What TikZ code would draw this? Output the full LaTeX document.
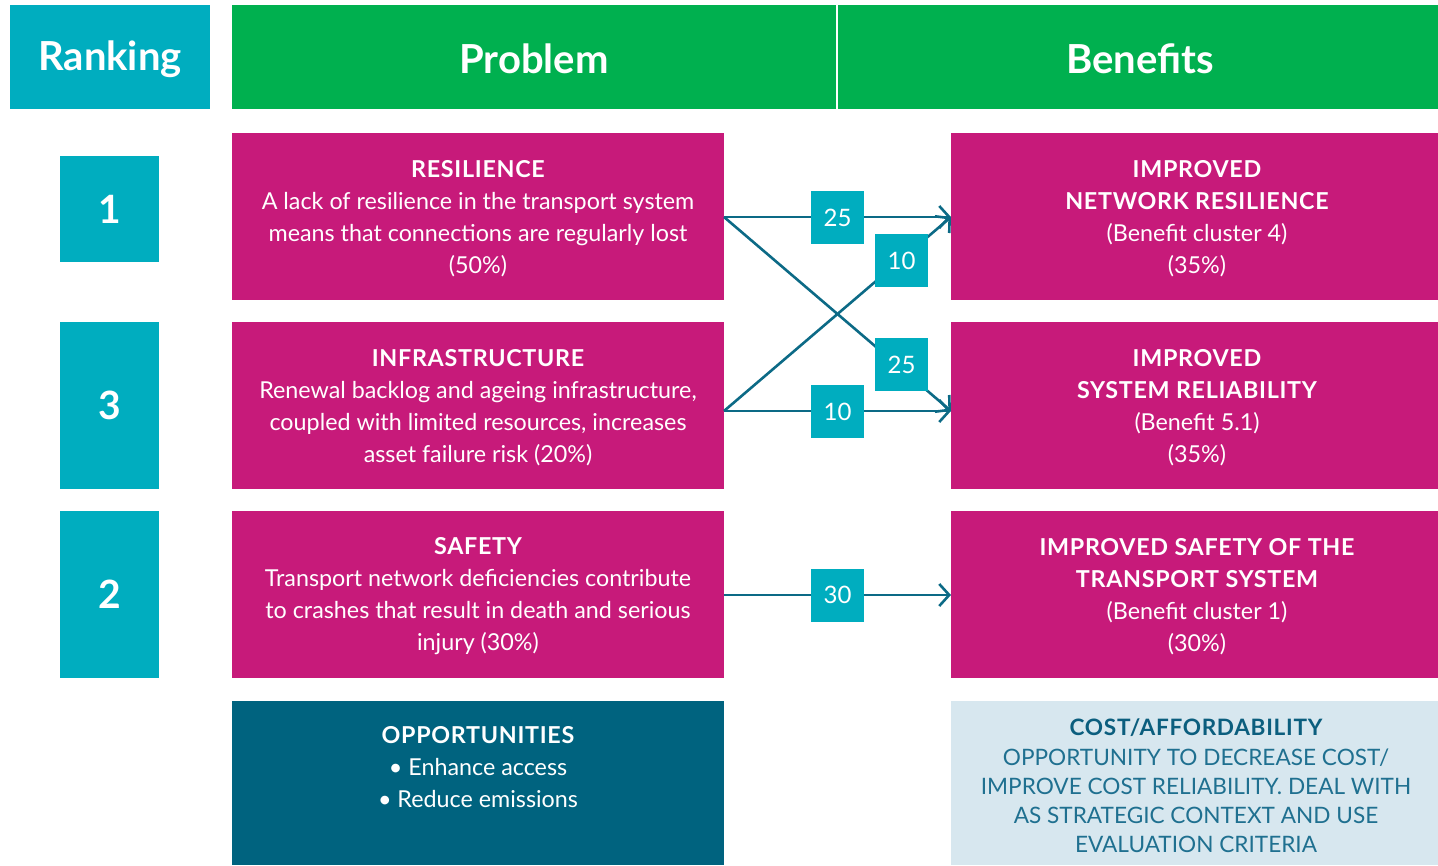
\documentclass[tikz,border=0pt]{standalone}
\usepackage{fontspec}
\setmainfont{Lato}
\newfontfamily\tfont[LetterSpace=3]{Lato}
\usetikzlibrary{arrows.meta}
\definecolor{rteal}{HTML}{00ADBF}
\definecolor{hgreen}{HTML}{00B04F}
\definecolor{mag}{HTML}{C71A7A}
\definecolor{dteal}{HTML}{00637F}
\definecolor{lblue}{HTML}{D7E7EF}
\definecolor{ctext}{HTML}{1F7090}
\definecolor{ctitle}{HTML}{0B5E7E}
\definecolor{aline}{HTML}{0C6A86}
\begin{document}
\begin{tikzpicture}[x=1pt,y=-1pt,
  hdr/.style={inner sep=0pt,text=white,font=\fontsize{40}{46}\selectfont\bfseries},
  rank/.style={fill=rteal,minimum width=99pt,minimum height=106pt,inner sep=0pt,text=white,font=\fontsize{39}{44}\selectfont\bfseries},
  pbox/.style={fill=mag,minimum width=492pt,minimum height=167pt,inner sep=0pt,text=white},
  txt/.style={align=center,text=white,font=\fontsize{23.3}{32}\selectfont},
  lab/.style={fill=rteal,minimum width=53pt,minimum height=53pt,inner sep=0pt,text=white,font=\fontsize{24}{28}\selectfont},
  conn/.style={draw=aline,line width=2.6pt,-{Straight Barb[length=10pt,width=22pt,line width=2.6pt]}}
]
\useasboundingbox (0,0) rectangle (1438,865);
% headers
\fill[rteal] (10,5) rectangle (210,109);
\node[hdr] (hr) at (110,59) {Ranking};
\fill[hgreen] (232,5) rectangle (836,109);
\node[hdr] (hp) at (534,59) {Problem};
\fill[hgreen] (838,5) rectangle (1438,109);
\node[hdr] (hb) at (1140,59) {Benefits};
% ranks
\node[rank] (r1) at (109.5,209) {1};
\node[rank,minimum height=167pt] (r3) at (109.5,405.5) {3};
\node[rank,minimum height=167pt] (r2) at (109.5,594.5) {2};
% problem boxes
\node[pbox] (p1) at (478,216.5) {};
\node[txt] at (478,218.5) {{\tfont\bfseries RESILIENCE}\\A lack of resilience in the transport system\\means that connections are regularly lost\\(50\%)};
\node[pbox] (p2) at (478,405.5) {};
\node[txt] at (478,407.5) {{\tfont\bfseries INFRASTRUCTURE}\\Renewal backlog and ageing infrastructure,\\coupled with limited resources, increases\\asset failure risk (20\%)};
\node[pbox] (p3) at (478,594.5) {};
\node[txt] at (478,596.5) {{\tfont\bfseries SAFETY}\\Transport network deficiencies contribute\\to crashes that result in death and serious\\injury (30\%)};
% benefit boxes
\node[pbox,minimum width=487pt] (b1) at (1194.5,216.5) {};
\node[txt] at (1197,218.5) {{\tfont\bfseries IMPROVED}\\{\tfont\bfseries NETWORK RESILIENCE}\\(Benefit cluster 4)\\(35\%)};
\node[pbox,minimum width=487pt] (b2) at (1194.5,405.5) {};
\node[txt] at (1197,407.5) {{\tfont\bfseries IMPROVED}\\{\tfont\bfseries SYSTEM RELIABILITY}\\(Benefit 5.1)\\(35\%)};
\node[pbox,minimum width=487pt] (b3) at (1194.5,594.5) {};
\node[txt] at (1197,596.5) {{\tfont\bfseries IMPROVED SAFETY OF THE}\\{\tfont\bfseries TRANSPORT SYSTEM}\\(Benefit cluster 1)\\(30\%)};
% bottom
\node[pbox,fill=dteal,minimum height=164pt] (op) at (478,783) {};
\node[txt] (opt) at (478,767) {{\tfont\bfseries OPPORTUNITIES}\\\textbullet\ Enhance access\\\textbullet\ Reduce emissions};
\node[pbox,fill=lblue,minimum width=487pt,minimum height=164pt] (cb) at (1194.5,783) {};
\node[txt,text=ctext,font=\fontsize{22.6}{29.3}\selectfont] (cbt) at (1196,786) {{\tfont\bfseries\color{ctitle}COST/AFFORDABILITY}\\OPPORTUNITY TO DECREASE COST/\\IMPROVE COST RELIABILITY. DEAL WITH\\AS STRATEGIC CONTEXT AND USE\\EVALUATION CRITERIA};
% connectors
\coordinate (s1) at (724,217);
\coordinate (s2) at (724,411);
\coordinate (s3) at (724,595);
\coordinate (e1) at (951,217);
\coordinate (e2) at (951,411);
\coordinate (e3) at (951,595);
\draw[conn] (s1) -- (e1);
\draw[conn] (s1) -- (e2);
\draw[conn] (s2) -- (e1);
\draw[conn] (s2) -- (e2);
\draw[conn] (s3) -- (e3);
\node[lab] (l1) at (837.5,217.5) {25};
\node[lab] (l2) at (901.5,364.5) {25};
\node[lab] (l3) at (901.5,260.5) {10};
\node[lab] (l4) at (837.5,411.5) {10};
\node[lab] (l5) at (837.5,595) {30};
\end{tikzpicture}
\end{document}
